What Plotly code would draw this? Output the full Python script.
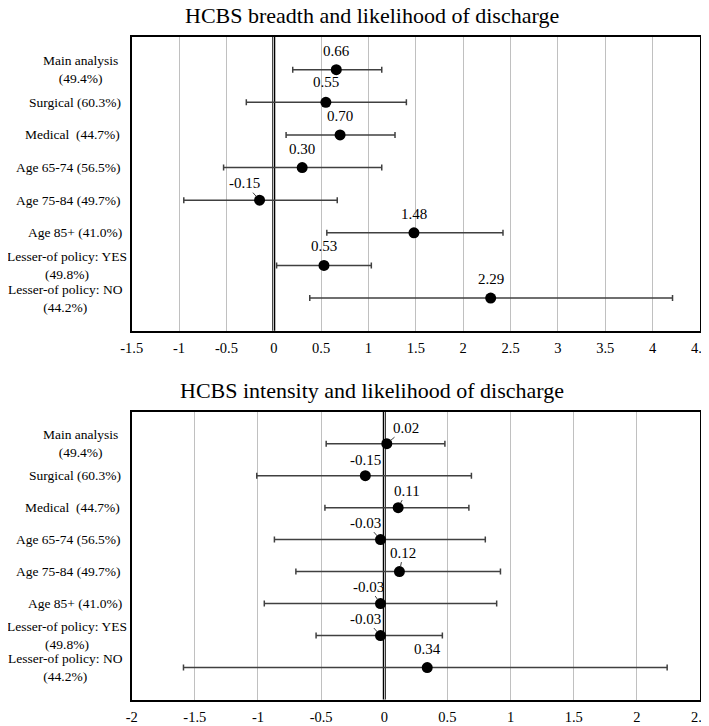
import plotly.graph_objects as go

# ---------------- data ----------------
categories = ["Main analysis<br>(49.4%)", "Surgical (60.3%)", "Medical  (44.7%)",
              "Age 65-74 (56.5%)", "Age 75-84 (49.7%)", "Age 85+ (41.0%)",
              "Lesser-of policy: YES<br>(49.8%)", "Lesser-of policy: NO<br>(44.2%)"]

breadth_est = [0.66, 0.55, 0.70, 0.30, -0.15, 1.48, 0.53, 2.29]
breadth_lo = [0.20, -0.29, 0.13, -0.53, -0.95, 0.56, 0.03, 0.38]
breadth_hi = [1.14, 1.40, 1.28, 1.14, 0.67, 2.42, 1.03, 4.21]

intensity_est = [0.02, -0.15, 0.11, -0.03, 0.12, -0.03, -0.03, 0.34]
intensity_lo = [-0.46, -1.01, -0.47, -0.87, -0.70, -0.95, -0.54, -1.59]
intensity_hi = [0.48, 0.69, 0.67, 0.80, 0.92, 0.89, 0.46, 2.24]

breadth_ticks = [-1.5, -1, -0.5, 0, 0.5, 1, 1.5, 2, 2.5, 3, 3.5, 4, 4.5]
intensity_ticks = [-2, -1.5, -1, -0.5, 0, 0.5, 1, 1.5, 2, 2.5]

titles = ["HCBS breadth and likelihood of discharge",
          "HCBS intensity and likelihood of discharge"]

# ---------------- style ----------------
# value-label offsets: (dx px, dy px, leader line?)
breadth_lab = [(0, -19, False), (0, -20, False), (0, -19, False), (0, -19, False),
               (-15, -17, True), (0, -19, False), (0, -19, False), (0, -19, False)]
intensity_lab = [(19, -16, True), (0, -16, False), (9, -17, True), (-15, -17, True),
                 (4, -19, True), (-12, -17, True), (-15, -17, True), (0, -19, False)]
# right edge (window px) of each category label
label_right = [120, 123, 122, 123, 123, 123.5, 128.7, 124.5]

# the page body adds an 8px margin, so the figure starts at (8, 8) in the window
OFF = 8
W, H = 709 - OFF, 726 - OFF
FONT = "Liberation Serif, Times New Roman, serif"


def px(x):
    return (x - OFF) / W


def py(y):
    return (H - (y - OFF)) / H


fig = go.Figure()

panels = [
    dict(est=breadth_est, lo=breadth_lo, hi=breadth_hi, ticks=breadth_ticks,
         rng=[-1.5, 4.5], top=37, bot=330.7, lab=breadth_lab, title=titles[0], ty=15.5),
    dict(est=intensity_est, lo=intensity_lo, hi=intensity_hi, ticks=intensity_ticks,
         rng=[-2, 2.5], top=411.7, bot=699.5, lab=intensity_lab, title=titles[1], ty=390),
]

xl, xr = 131.7, 700
ypos = list(range(1, len(categories) + 1))
annotations = []
layout_axes = {}
for i, p in enumerate(panels):
    xa = "x" if i == 0 else "x2"
    ya = "y" if i == 0 else "y2"
    ex_plus = [h - e for h, e in zip(p["hi"], p["est"])]
    ex_minus = [e - l for e, l in zip(p["est"], p["lo"])]
    fig.add_trace(go.Scatter(
        x=p["est"], y=ypos, mode="markers", xaxis=xa, yaxis=ya,
        marker=dict(color="black", size=11),
        error_x=dict(type="data", symmetric=False, array=ex_plus, arrayminus=ex_minus,
                     color="#404040", thickness=1.5, width=3),
        showlegend=False, hoverinfo="skip"))
    # zero line
    fig.add_shape(type="line", x0=0, x1=0, y0=0, y1=1, xref=xa, yref=ya + " domain",
                  line=dict(color="black", width=3), layer="below")
    dom_x = [px(xl), px(xr)]
    dom_y = [py(p["bot"]), py(p["top"])]
    key = "" if i == 0 else "2"
    layout_axes["xaxis" + key] = dict(
        domain=dom_x, range=p["rng"], tickvals=p["ticks"],
        ticktext=[f"{t:g}" for t in p["ticks"]], showgrid=True, gridcolor="#c0c0c0",
        gridwidth=1, zeroline=False, showline=True, linecolor="black", linewidth=2,
        mirror=True, ticks="", tickfont=dict(family=FONT, size=14.5, color="black"),
        ticklabelstandoff=3, ticklabeloverflow="allow", automargin=False,
        anchor=ya, fixedrange=True)
    layout_axes["yaxis" + key] = dict(
        domain=dom_y, range=[len(categories) + 1, 0], showgrid=False, zeroline=False,
        showline=True, linecolor="black", linewidth=2, mirror=True, ticks="",
        showticklabels=False, automargin=False, anchor=xa, fixedrange=True)
    # category labels
    for j, c in enumerate(categories):
        annotations.append(dict(
            x=px(label_right[j]), xref="paper", y=ypos[j], yref=ya, text=c,
            showarrow=False, xanchor="right", yanchor="middle", align="center",
            font=dict(family=FONT, size=13.5, color="black")))
    # value labels
    for j, (v, (dx, dy, lead)) in enumerate(zip(p["est"], p["lab"])):
        txt = f"{v:.2f}"
        if lead:
            annotations.append(dict(
                x=v, y=ypos[j], xref=xa, yref=ya, text=txt, showarrow=True,
                arrowhead=0, arrowwidth=1, arrowcolor="#404040", standoff=5,
                ax=dx, ay=dy, font=dict(family=FONT, size=15, color="black")))
        else:
            annotations.append(dict(
                x=v, y=ypos[j], xref=xa, yref=ya, text=txt, showarrow=False,
                xshift=dx, yshift=-dy, font=dict(family=FONT, size=15, color="black")))
    # title
    annotations.append(dict(
        x=px(372), y=py(p["ty"]), xref="paper", yref="paper", text=p["title"],
        showarrow=False, xanchor="center", yanchor="middle",
        font=dict(family=FONT, size=22, color="black")))

fig.update_layout(
    width=W, height=H, margin=dict(l=0, r=0, t=0, b=0, autoexpand=False),
    paper_bgcolor="white", plot_bgcolor="white",
    annotations=annotations, **layout_axes)

fig.write_html("out.html")
